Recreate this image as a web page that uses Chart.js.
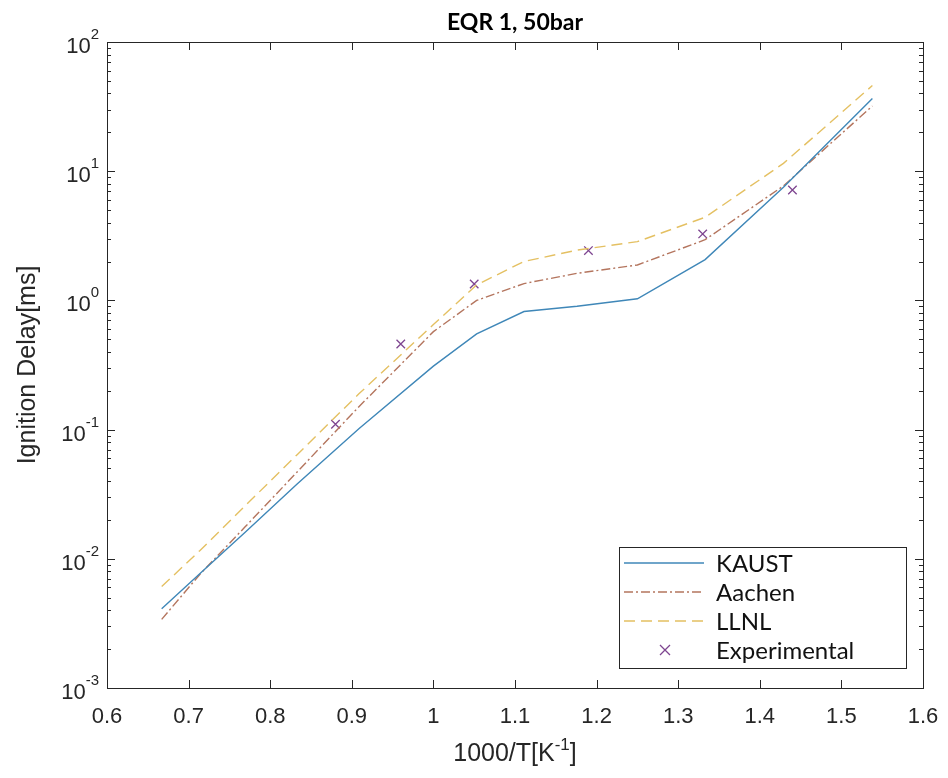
<!DOCTYPE html>
<html>
<head>
<meta charset="utf-8">
<title>EQR 1, 50bar</title>
<script src="https://cdn.jsdelivr.net/npm/chart.js@4.4.0/dist/chart.umd.min.js"></script>
<style>
  html, body { margin: 0; padding: 0; background: #fff; }
  #wrap { width: 948px; height: 778px; position: relative; }
</style>
</head>
<body>
<div id="wrap"><canvas id="ignitionChart"></canvas></div>
<script>
// 1000/T grid used by the simulations
const invTemp = [0.667, 0.714, 0.769, 0.833, 0.909, 1.0, 1.053, 1.111, 1.176, 1.25, 1.333, 1.429, 1.538];
const kaust = [0.0041, 0.0077, 0.016, 0.038, 0.102, 0.31, 0.55, 0.82, 0.90, 1.03, 2.07, 7.5, 36.5];
const aachen = [0.0034, 0.0076, 0.0176, 0.047, 0.151, 0.573, 1.0, 1.35, 1.62, 1.88, 2.95, 7.7, 32];
const llnl = [0.0061, 0.0116, 0.0256, 0.064, 0.19, 0.65, 1.32, 2.0, 2.45, 2.85, 4.4, 11.5, 46];

// measured points
const expInvTemp = [0.88, 0.96, 1.05, 1.19, 1.33, 1.44];
const expDelay = [0.11, 0.46, 1.34, 2.43, 3.27, 7.15];

const xTicks = [0.6, 0.7, 0.8, 0.9, 1.0, 1.1, 1.2, 1.3, 1.4, 1.5, 1.6];
const yExponents = [-3, -2, -1, 0, 1, 2];

const AXIS = "#262626";
const SANS = "'Liberation Sans', Arial, sans-serif";
const TICK_FONT = "22px " + SANS;
const SUP_FONT = "15px " + SANS;
const LABEL_FONT = "25px " + SANS;

function pts(xs, ys) {
  return xs.map((x, i) => ({ x: x, y: ys[i] }));
}

const matlabAxes = {
  id: "matlabAxes",
  afterDatasetsDraw(chart) {
    const ctx = chart.ctx;
    const a = chart.chartArea;
    const xs = chart.scales.x;
    const ys = chart.scales.y;
    ctx.save();
    ctx.strokeStyle = AXIS;
    ctx.lineWidth = 1;

    // box
    ctx.strokeRect(Math.round(a.left) + 0.5, Math.round(a.top) + 0.5,
      Math.round(a.right - a.left), Math.round(a.bottom - a.top));

    // x ticks (top and bottom, inward)
    ctx.beginPath();
    xTicks.forEach(v => {
      const px = Math.round(xs.getPixelForValue(v)) + 0.5;
      ctx.moveTo(px, a.bottom); ctx.lineTo(px, a.bottom - 8);
      ctx.moveTo(px, a.top); ctx.lineTo(px, a.top + 8);
    });
    // y ticks, majors and minors
    yExponents.forEach(e => {
      const py = Math.round(ys.getPixelForValue(Math.pow(10, e))) + 0.5;
      ctx.moveTo(a.left, py); ctx.lineTo(a.left + 8, py);
      ctx.moveTo(a.right, py); ctx.lineTo(a.right - 8, py);
      if (e < 2) {
        for (let k = 2; k <= 9; k++) {
          const pm = Math.round(ys.getPixelForValue(k * Math.pow(10, e))) + 0.5;
          ctx.moveTo(a.left, pm); ctx.lineTo(a.left + 4, pm);
          ctx.moveTo(a.right, pm); ctx.lineTo(a.right - 4, pm);
        }
      }
    });
    ctx.stroke();

    // x tick labels
    ctx.fillStyle = AXIS;
    ctx.font = TICK_FONT;
    ctx.textAlign = "center";
    ctx.textBaseline = "middle";
    xTicks.forEach(v => {
      ctx.fillText(String(Number(v.toFixed(1))), xs.getPixelForValue(v), a.bottom + 29);
    });

    // y tick labels 10^n
    ctx.textBaseline = "alphabetic";
    yExponents.forEach(e => {
      const py = ys.getPixelForValue(Math.pow(10, e));
      const sup = String(e);
      ctx.font = SUP_FONT;
      const wSup = ctx.measureText(sup).width;
      ctx.textAlign = "left";
      ctx.fillText(sup, a.left - 8 - wSup, py - 3);
      ctx.font = TICK_FONT;
      ctx.textAlign = "right";
      ctx.fillText("10", a.left - 8 - wSup, py + 11);
    });

    // axis titles
    ctx.font = LABEL_FONT;
    ctx.textAlign = "center";
    ctx.textBaseline = "middle";
    ctx.save();
    ctx.translate(28, (a.top + a.bottom) / 2);
    ctx.rotate(-Math.PI / 2);
    ctx.fillText("Ignition Delay[ms]", 0, 0);
    ctx.restore();

    const cx = (a.left + a.right) / 2;
    const base = 761;
    const p1 = "1000/T[K";
    const p2 = "-1";
    const p3 = "]";
    ctx.textBaseline = "alphabetic";
    ctx.font = LABEL_FONT;
    const w1 = ctx.measureText(p1).width;
    const w3 = ctx.measureText(p3).width;
    ctx.font = "17px " + SANS;
    const w2 = ctx.measureText(p2).width;
    const x0 = cx - (w1 + w2 + w3) / 2;
    ctx.textAlign = "left";
    ctx.font = LABEL_FONT;
    ctx.fillText(p1, x0, base);
    ctx.font = "17px " + SANS;
    ctx.fillText(p2, x0 + w1, base - 11);
    ctx.font = LABEL_FONT;
    ctx.fillText(p3, x0 + w1 + w2, base);

    // title
    ctx.font = "bold 23px Lato, 'Open Sans', sans-serif";
    ctx.textAlign = "center";
    ctx.textBaseline = "middle";
    ctx.fillStyle = "#000";
    ctx.fillText("EQR 1, 50bar", cx, 23);

    // legend
    const lx = 619, ly = 547, lw = 287, lh = 121;
    ctx.fillStyle = "#fff";
    ctx.fillRect(lx, ly, lw, lh);
    ctx.strokeStyle = AXIS;
    ctx.strokeRect(lx + 0.5, ly + 0.5, lw, lh);
    ctx.font = "24px Lato, 'Open Sans', sans-serif";
    ctx.textAlign = "left";
    ctx.textBaseline = "middle";
    chart.data.datasets.forEach((ds, i) => {
      const ry = ly + 16 + i * 29;
      ctx.strokeStyle = ds.borderColor;
      ctx.lineWidth = ds.borderWidth;
      if (ds.showLine === false) {
        const mx = 665, r = 5;
        ctx.setLineDash([]);
        ctx.beginPath();
        ctx.moveTo(mx - r, ry - r); ctx.lineTo(mx + r, ry + r);
        ctx.moveTo(mx - r, ry + r); ctx.lineTo(mx + r, ry - r);
        ctx.stroke();
      } else {
        ctx.setLineDash(ds.borderDash || []);
        ctx.beginPath();
        ctx.moveTo(624, ry); ctx.lineTo(704, ry);
        ctx.stroke();
      }
      ctx.setLineDash([]);
      ctx.fillStyle = "#111";
      ctx.fillText(ds.label, 716, ry + 1);
    });
    ctx.restore();
  }
};

new Chart(document.getElementById("ignitionChart"), {
  type: "line",
  data: {
    datasets: [
      {
        label: "KAUST",
        data: pts(invTemp, kaust),
        borderColor: "#3f87b8",
        borderWidth: 1.4,
        pointRadius: 0
      },
      {
        label: "Aachen",
        data: pts(invTemp, aachen),
        borderColor: "#b4755e",
        borderWidth: 1.4,
        borderDash: [9, 3, 2, 3],
        pointRadius: 0
      },
      {
        label: "LLNL",
        data: pts(invTemp, llnl),
        borderColor: "#e4c062",
        borderWidth: 1.4,
        borderDash: [11, 6],
        pointRadius: 0
      },
      {
        label: "Experimental",
        data: pts(expInvTemp, expDelay),
        showLine: false,
        borderColor: "#7e4590",
        backgroundColor: "#7e4590",
        borderWidth: 1.3,
        pointStyle: "crossRot",
        pointRadius: 6
      }
    ]
  },
  options: {
    responsive: true,
    maintainAspectRatio: false,
    animation: false,
    layout: { padding: { top: 42, right: 25, left: 0, bottom: 0 } },
    plugins: {
      legend: { display: false },
      title: { display: false },
      tooltip: { enabled: false }
    },
    scales: {
      x: {
        type: "linear",
        min: 0.6,
        max: 1.6,
        grid: { display: false },
        border: { display: false },
        ticks: { display: false },
        afterFit: s => { s.height = 90; }
      },
      y: {
        type: "logarithmic",
        min: 0.001,
        max: 100,
        grid: { display: false },
        border: { display: false },
        ticks: { display: false },
        afterFit: s => { s.width = 107; }
      }
    }
  },
  plugins: [matlabAxes]
});
</script>
</body>
</html>
